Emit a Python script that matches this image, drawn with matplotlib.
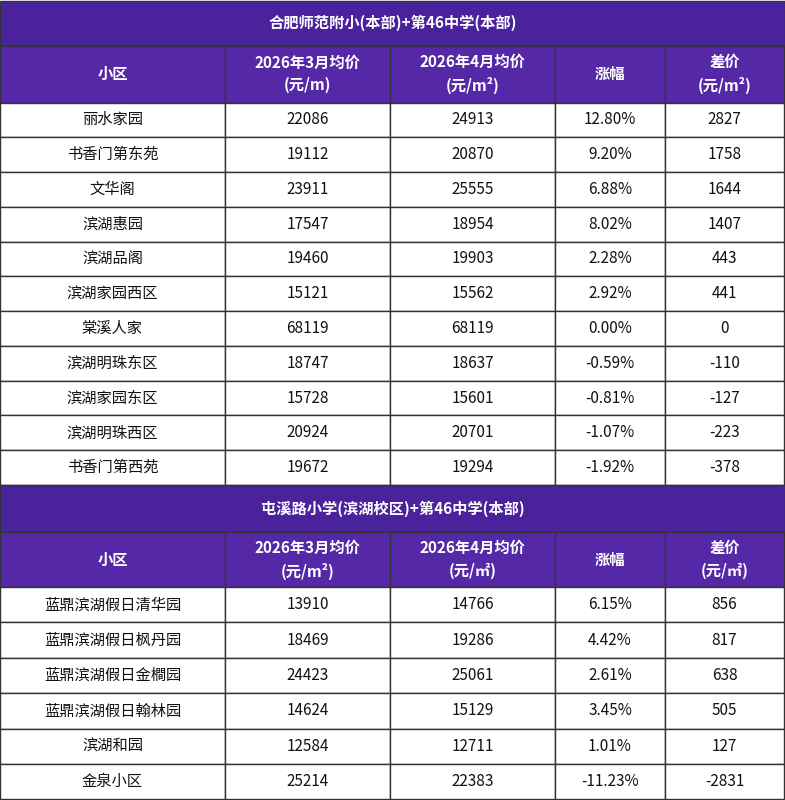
import matplotlib
matplotlib.use("Agg")
import matplotlib.pyplot as plt
from matplotlib.patches import Rectangle

plt.rcParams['font.family'] = ['Noto Sans CJK SC', 'DejaVu Sans']

title1 = "合肥师范附小(本部)+第46中学(本部)"
headers1 = ["小区", "2026年3月均价\n(元/m)", "2026年4月均价\n(元/m²)", "涨幅", "差价\n(元/m²)"]
names1 = ["丽水家园", "书香门第东苑", "文华阁", "滨湖惠园", "滨湖品阁", "滨湖家园西区", "棠溪人家",
          "滨湖明珠东区", "滨湖家园东区", "滨湖明珠西区", "书香门第西苑"]
mar1 = [22086, 19112, 23911, 17547, 19460, 15121, 68119, 18747, 15728, 20924, 19672]
apr1 = [24913, 20870, 25555, 18954, 19903, 15562, 68119, 18637, 15601, 20701, 19294]
chg1 = ["12.80%", "9.20%", "6.88%", "8.02%", "2.28%", "2.92%", "0.00%", "-0.59%", "-0.81%", "-1.07%", "-1.92%"]
diff1 = [2827, 1758, 1644, 1407, 443, 441, 0, -110, -127, -223, -378]

title2 = "屯溪路小学(滨湖校区)+第46中学(本部)"
headers2 = ["小区", "2026年3月均价\n(元/m²)", "2026年4月均价\n(元/㎡)", "涨幅", "差价\n(元/㎡)"]
names2 = ["蓝鼎滨湖假日清华园", "蓝鼎滨湖假日枫丹园", "蓝鼎滨湖假日金橺园", "蓝鼎滨湖假日翰林园", "滨湖和园", "金泉小区"]
mar2 = [13910, 18469, 24423, 14624, 12584, 25214]
apr2 = [14766, 19286, 25061, 15129, 12711, 22383]
chg2 = ["6.15%", "4.42%", "2.61%", "3.45%", "1.01%", "-11.23%"]
diff2 = [856, 817, 638, 505, 127, -2831]

W, H = 785, 800
fig = plt.figure(figsize=(W / 100, H / 100), dpi=100)
ax = fig.add_axes([0, 0, 1, 1])
ax.set_xlim(0, W)
ax.set_ylim(H, 0)
ax.axis("off")

cols = [0, 225, 390, 555, 665, 784]
TITLE_C = "#4A229C"
HEAD_C = "#5428A6"
LINE = "#333333"

def section(y0, title, headers, names, mar, apr, chg, diff, t_h, h_h, y_end):
    ax.add_patch(Rectangle((0, y0), W, t_h, facecolor=TITLE_C, edgecolor=LINE, lw=1))
    ax.text(W / 2, y0 + t_h / 2, title, color="white", fontsize=11, fontweight="bold", ha="center", va="center")
    hy = y0 + t_h
    for i in range(5):
        ax.add_patch(Rectangle((cols[i], hy), cols[i + 1] - cols[i], h_h, facecolor=HEAD_C, edgecolor=LINE, lw=1))
        ax.text((cols[i] + cols[i + 1]) / 2, hy + h_h / 2, headers[i], color="white", fontsize=11,
                fontweight="bold", ha="center", va="center", linespacing=1.5)
    ry = hy + h_h
    n = len(names)
    rh = (y_end - ry) / n
    for r in range(n):
        vals = [names[r], str(mar[r]), str(apr[r]), chg[r], str(diff[r])]
        for i in range(5):
            ax.add_patch(Rectangle((cols[i], ry + r * rh), cols[i + 1] - cols[i], rh, facecolor="white", edgecolor=LINE, lw=1))
            ax.text((cols[i] + cols[i + 1]) / 2, ry + r * rh + rh / 2, vals[i], color="#111111",
                    fontsize=11, ha="center", va="center")

section(0.5, title1, headers1, names1, mar1, apr1, chg1, diff1, 45, 57, 485)
section(485, title2, headers2, names2, mar2, apr2, chg2, diff2, 47, 55, 799.5)

fig.savefig("out.png", dpi=100)
